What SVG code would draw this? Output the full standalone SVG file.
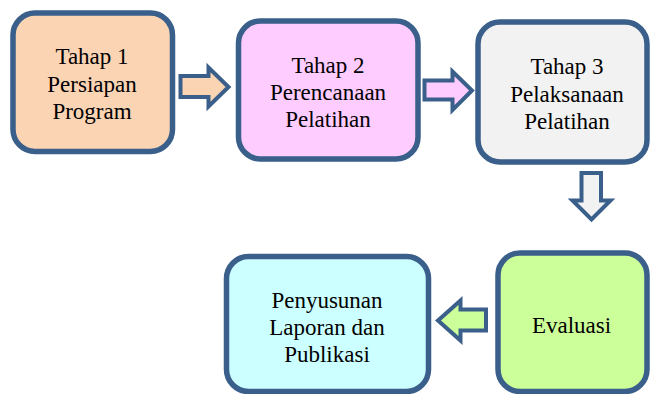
<svg xmlns="http://www.w3.org/2000/svg" width="650" height="394" viewBox="0 0 650 394">
<style>
.box{stroke:#3A5F8A;stroke-width:5.5}
.arr{stroke:#3A5F8A;stroke-width:4;stroke-linejoin:miter}
.t{font-size:23px;fill:#000;text-anchor:middle}
</style>
<rect width="650" height="394" fill="#fff"/>
<g id="connectors">
<path class="arr" fill="#FBD4B4" d="M180.5,76 H208.5 V67.5 L228.5,87 L208.5,106.5 V97 H180.5 Z"/>
<path class="arr" fill="#FFCCFF" d="M424.5,80.5 H452.5 V71.5 L472,90.5 L452.5,110 V99.5 H424.5 Z"/>
<path class="arr" fill="#F2F2F2" d="M581.5,173 H601 V200.5 H610.5 L591.5,219.5 L572.5,200.5 H581.5 Z"/>
<path class="arr" fill="#CCFF99" d="M486,309.5 H460.5 V300.5 L438,320.5 L460.5,340.5 V330.5 H486 Z"/>
</g>
<g font-family="'Liberation Serif', 'DejaVu Serif', serif">
<g id="node1">
<rect class="box" x="13" y="13" width="159.5" height="138.5" rx="22" fill="#FBD4B4"/>
<text class="t" x="92" y="64">Tahap 1</text>
<text class="t" x="92" y="91.5">Persiapan</text>
<text class="t" x="92" y="118.5">Program</text>
</g>
<g id="node2">
<rect class="box" x="238.5" y="21" width="179.5" height="138" rx="22" fill="#FFCCFF"/>
<text class="t" x="328" y="72.7">Tahap 2</text>
<text class="t" x="328" y="100">Perencanaan</text>
<text class="t" x="328" y="126.7">Pelatihan</text>
</g>
<g id="node3">
<rect class="box" x="478" y="22" width="169" height="140" rx="22" fill="#F2F2F2"/>
<text class="t" x="567" y="74">Tahap 3</text>
<text class="t" x="567" y="101.5">Pelaksanaan</text>
<text class="t" x="567" y="128.5">Pelatihan</text>
</g>
<g id="node4">
<rect class="box" x="498" y="253" width="149" height="138.5" rx="22" fill="#CCFF99"/>
<text class="t" x="571.5" y="332.7">Evaluasi</text>
</g>
<g id="node5">
<rect class="box" x="226.5" y="256.5" width="202" height="135" rx="22" fill="#CCFFFF"/>
<text class="t" x="327" y="307.7">Penyusunan</text>
<text class="t" x="327" y="334.5">Laporan dan</text>
<text class="t" x="327" y="361.5">Publikasi</text>
</g>
</g>
</svg>
